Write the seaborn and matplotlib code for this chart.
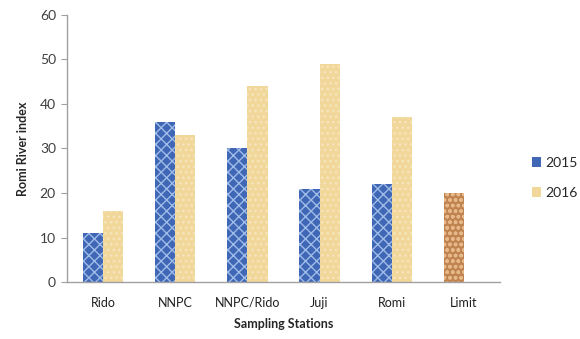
import matplotlib
matplotlib.use("Agg")
import matplotlib.pyplot as plt
from matplotlib.patches import Patch
import seaborn as sns
import pandas as pd

stations = ["Rido", "NNPC", "NNPC/Rido", "Juji", "Romi", "Limit"]
values_2015 = [11, 36, 30, 21, 22, 20]
values_2016 = [16, 33, 44, 49, 37, None]
years = ["2015", "2016"]
y_ticks = [0, 10, 20, 30, 40, 50, 60]

rows = []
for st, a, b in zip(stations, values_2015, values_2016):
    rows.append({"station": st, "year": "2015", "value": a})
    if b is not None:
        rows.append({"station": st, "year": "2016", "value": b})
df = pd.DataFrame(rows)

sns.set_style("white")
plt.rcParams["font.family"] = ["Lato", "DejaVu Sans"]
plt.rcParams["hatch.linewidth"] = 1.0

blue = "#3f67b5"
blue_hatch = "#9fbbe8"
tan = "#f1d79a"
tan_hatch = "#f6e6bf"
brown = "#c08450"
brown_hatch = "#e7b98a"

fig = plt.figure(figsize=(5.8, 3.39), dpi=100)
ax = fig.add_axes([0.1155, 0.168, 0.7465, 0.788])

sns.barplot(data=df, x="station", y="value", hue="year", order=stations,
            hue_order=years, palette=[blue, tan], width=0.56, dodge=True,
            legend=False, ax=ax)

for container, fc, hc, hatch in zip(ax.containers, [blue, tan],
                                    [blue_hatch, tan_hatch], ["xxx", "..."]):
    for p in container:
        p.set_facecolor(fc)
        p.set_edgecolor(hc)
        p.set_linewidth(0)
        p.set_hatch(hatch)

# the regulatory limit bar gets its own fill
limit_bar = ax.containers[0][stations.index("Limit")]
limit_bar.set_facecolor(brown)
limit_bar.set_edgecolor(brown_hatch)
limit_bar.set_hatch("ooo")

ax.set_ylim(0, 60)
ax.set_yticks(y_ticks)
ax.set_yticklabels([str(t) for t in y_ticks], fontsize=10, color="#404040")
ax.tick_params(axis="y", which="both", left=True, length=4, width=0.8,
               color="#a0a0a0", pad=4)
ax.tick_params(axis="x", bottom=False, labelsize=9, labelcolor="#202020", pad=7)
ax.set_xlim(-0.5, len(stations) - 0.5)

for side in ["top", "right"]:
    ax.spines[side].set_visible(False)
for side in ["left", "bottom"]:
    ax.spines[side].set_color("#a0a0a0")
    ax.spines[side].set_linewidth(1.0)

ax.set_xlabel("Sampling Stations", fontsize=9, fontweight="bold", labelpad=7)
ax.set_ylabel("Romi River index", fontsize=9, fontweight="bold", labelpad=8)

handles = [Patch(facecolor=blue, edgecolor="none", label="2015"),
           Patch(facecolor=tan, edgecolor="none", label="2016")]
fig.legend(handles=handles, loc="center left", bbox_to_anchor=(0.895, 0.475),
           frameon=False, fontsize=10, handlelength=0.7, handleheight=0.7,
           handletextpad=0.3, labelspacing=1.3)

fig.savefig("out.png", dpi=100)
